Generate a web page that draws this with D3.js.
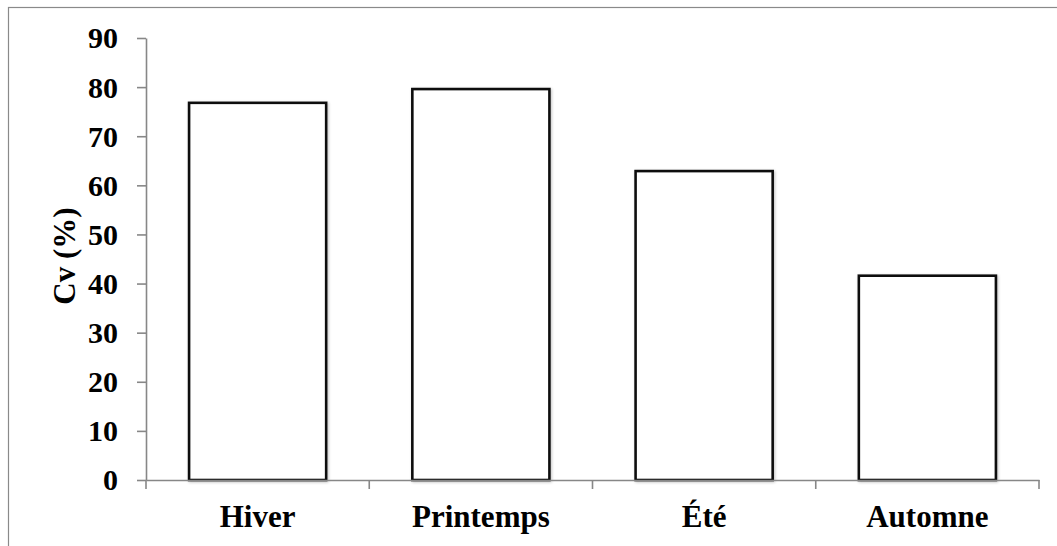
<!DOCTYPE html>
<html>
<head>
<meta charset="utf-8">
<script src="https://cdnjs.cloudflare.com/ajax/libs/d3/7.8.5/d3.min.js"></script>
<style>
  html, body { margin: 0; padding: 0; background: #fff; }
  svg { display: block; }
</style>
</head>
<body>
<svg id="chart" width="1057" height="546"></svg>
<script>
const categories = ["Hiver", "Printemps", "Été", "Automne"];
const values = [76.8, 79.6, 62.9, 41.6];
const yTicks = [0, 10, 20, 30, 40, 50, 60, 70, 80, 90];
const yTitle = "Cv (%)";

const FONT = "Liberation Serif";
const svg = d3.select("#chart");
const W = 1057, H = 546;
const m = { left: 146, right: 1039, top: 38, bottom: 480 };

// outer frame
svg.append("rect")
  .attr("x", 8.5).attr("y", 7.5)
  .attr("width", W + 20).attr("height", H + 20)
  .attr("fill", "none").attr("stroke", "#8a8a8a").attr("stroke-width", 1.2);

const x = d3.scaleBand().domain(categories)
  .range([m.left, m.right]).paddingInner(0.386).paddingOuter(0.193);
const y = d3.scaleLinear().domain([0, 90]).range([m.bottom, m.top]);

const defs = svg.append("defs");
const f = defs.append("filter").attr("id", "sh").attr("x", "-10%").attr("y", "-10%").attr("width", "120%").attr("height", "120%");
f.append("feGaussianBlur").attr("in", "SourceAlpha").attr("stdDeviation", 1.5).attr("result", "b");
f.append("feOffset").attr("in", "b").attr("dx", 1).attr("dy", 1).attr("result", "o");
f.append("feComponentTransfer").attr("in", "o").attr("result", "t")
  .append("feFuncA").attr("type", "linear").attr("slope", 0.25);
const mg = f.append("feMerge");
mg.append("feMergeNode").attr("in", "t");
mg.append("feMergeNode").attr("in", "SourceGraphic");

// y axis
const yAxis = svg.append("g")
  .attr("transform", `translate(${m.left},0)`)
  .call(d3.axisLeft(y).tickValues(yTicks).tickSize(9).tickSizeOuter(0).tickPadding(19));
yAxis.attr("font-family", FONT).attr("font-size", 30).attr("font-weight", "bold");
yAxis.selectAll("path, line").attr("stroke", "#878787").attr("stroke-width", 1.6);
yAxis.selectAll("text").attr("dy", "0.33em").attr("fill", "#000")
  .attr("font-family", FONT).attr("font-size", 30).attr("font-weight", "bold");

// bars
svg.append("g").selectAll("rect").data(values).join("rect")
  .attr("x", (d, i) => x(categories[i]))
  .attr("y", d => y(d))
  .attr("width", x.bandwidth())
  .attr("height", d => y(0) - y(d))
  .attr("fill", "#fff")
  .attr("stroke", "#111")
  .attr("stroke-width", 2.6)
  .attr("filter", "url(#sh)");

// x axis
const xAxis = svg.append("g")
  .attr("transform", `translate(0,${m.bottom})`)
  .call(d3.axisBottom(x).tickSize(0).tickSizeOuter(0).tickPadding(25));
xAxis.attr("font-family", FONT).attr("font-size", 31).attr("font-weight", "bold");
xAxis.select(".domain").attr("stroke", "#878787").attr("stroke-width", 1.6);
xAxis.selectAll("text").attr("fill", "#000")
  .attr("font-family", FONT).attr("font-size", 31).attr("font-weight", "bold");

// separator ticks between categories
const seps = d3.range(categories.length + 1).map(i => m.left + i * x.step());
svg.append("g").selectAll("line").data(seps).join("line")
  .attr("x1", d => d).attr("x2", d => d)
  .attr("y1", m.bottom).attr("y2", m.bottom + 9)
  .attr("stroke", "#878787").attr("stroke-width", 1.6);

// y title
svg.append("text")
  .attr("transform", `translate(75,256) rotate(-90)`)
  .attr("text-anchor", "middle")
  .attr("font-family", FONT).attr("font-size", 31).attr("font-weight", "bold")
  .attr("fill", "#000")
  .text(yTitle);
</script>
</body>
</html>
